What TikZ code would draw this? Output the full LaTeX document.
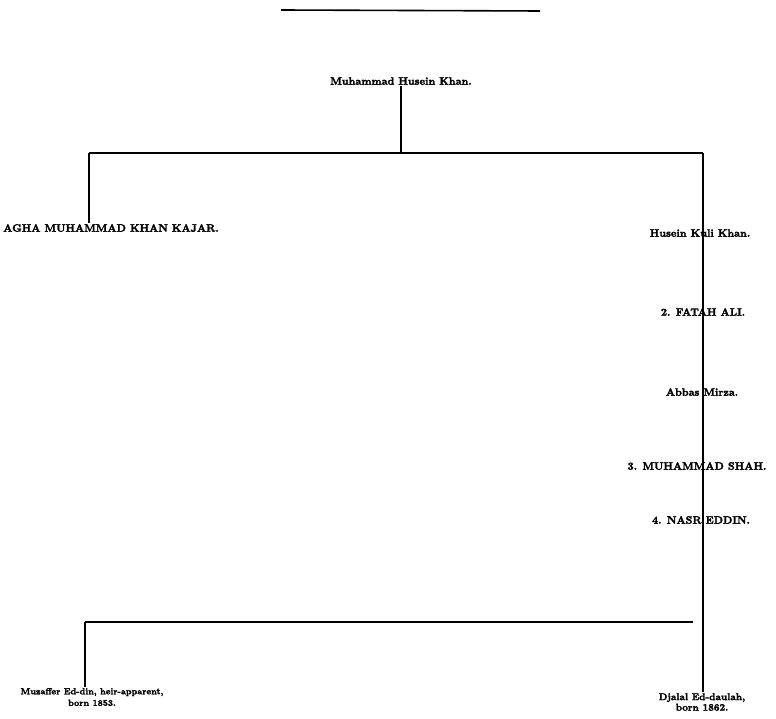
\documentclass[tikz,border=0pt]{standalone}
\usepackage{fontspec}
\usetikzlibrary{positioning}

\newfontfamily\heavy{lmroman10-bold.otf}[FakeBold=2.5]

\tikzset{
  person/.style={font=\heavy\fontsize{10.6}{11}\selectfont, inner sep=1pt, align=center},
  issue/.style={person, font=\heavy\fontsize{8.9}{11.5}\selectfont},
  line/.style={line width=1.1pt}
}

\begin{document}
\begin{tikzpicture}[x=1pt,y=-1pt]
\useasboundingbox (0,0) rectangle (776,719);

\draw[line width=1.6pt] (281,10) -- (540,11);

\node[person] (root) at(401,81){Muhammad Husein Khan.};
\node[person] (agha) at(111,228){AGHA MUHAMMAD KHAN KAJAR.};
\node[person] (husein) at(700,233){Husein Kuli Khan.};
\node[person] (fatah) at(703,312){2. FATAH ALI.};
\node[person] (abbas) at(702,392){Abbas Mirza.};
\node[person] (mshah) at(697,466){3. MUHAMMAD SHAH.};
\node[person] (nasr) at(701,520){4. NASR EDDIN.};
\node[issue] (muz) at(92,697){Muzaffer Ed-din, heir-apparent,\\born 1853.};
\node[issue, font=\heavy\fontsize{9.8}{10.5}\selectfont] (djalal) at(702,702){Djalal Ed-daulah,\\born 1862.};

\coordinate (jl) at(89,153);
\coordinate (jm) at(401,153);
\coordinate (jr) at(703,153);
\coordinate (bl) at(85,622);
\coordinate (br) at(693,622);

% upper branch
\draw[line] (root.south) -- (jm);
\draw[line] (jl) -- (jr);
\draw[line] (jl) -- (jl |- agha.north);

% line of descent
\draw[line] (jr) -- (jr |- djalal.north);

% sons of Nasr Eddin
\draw[line] (bl) -- (br);
\draw[line] (bl) -- (bl |- muz.north);

\end{tikzpicture}
\end{document}
